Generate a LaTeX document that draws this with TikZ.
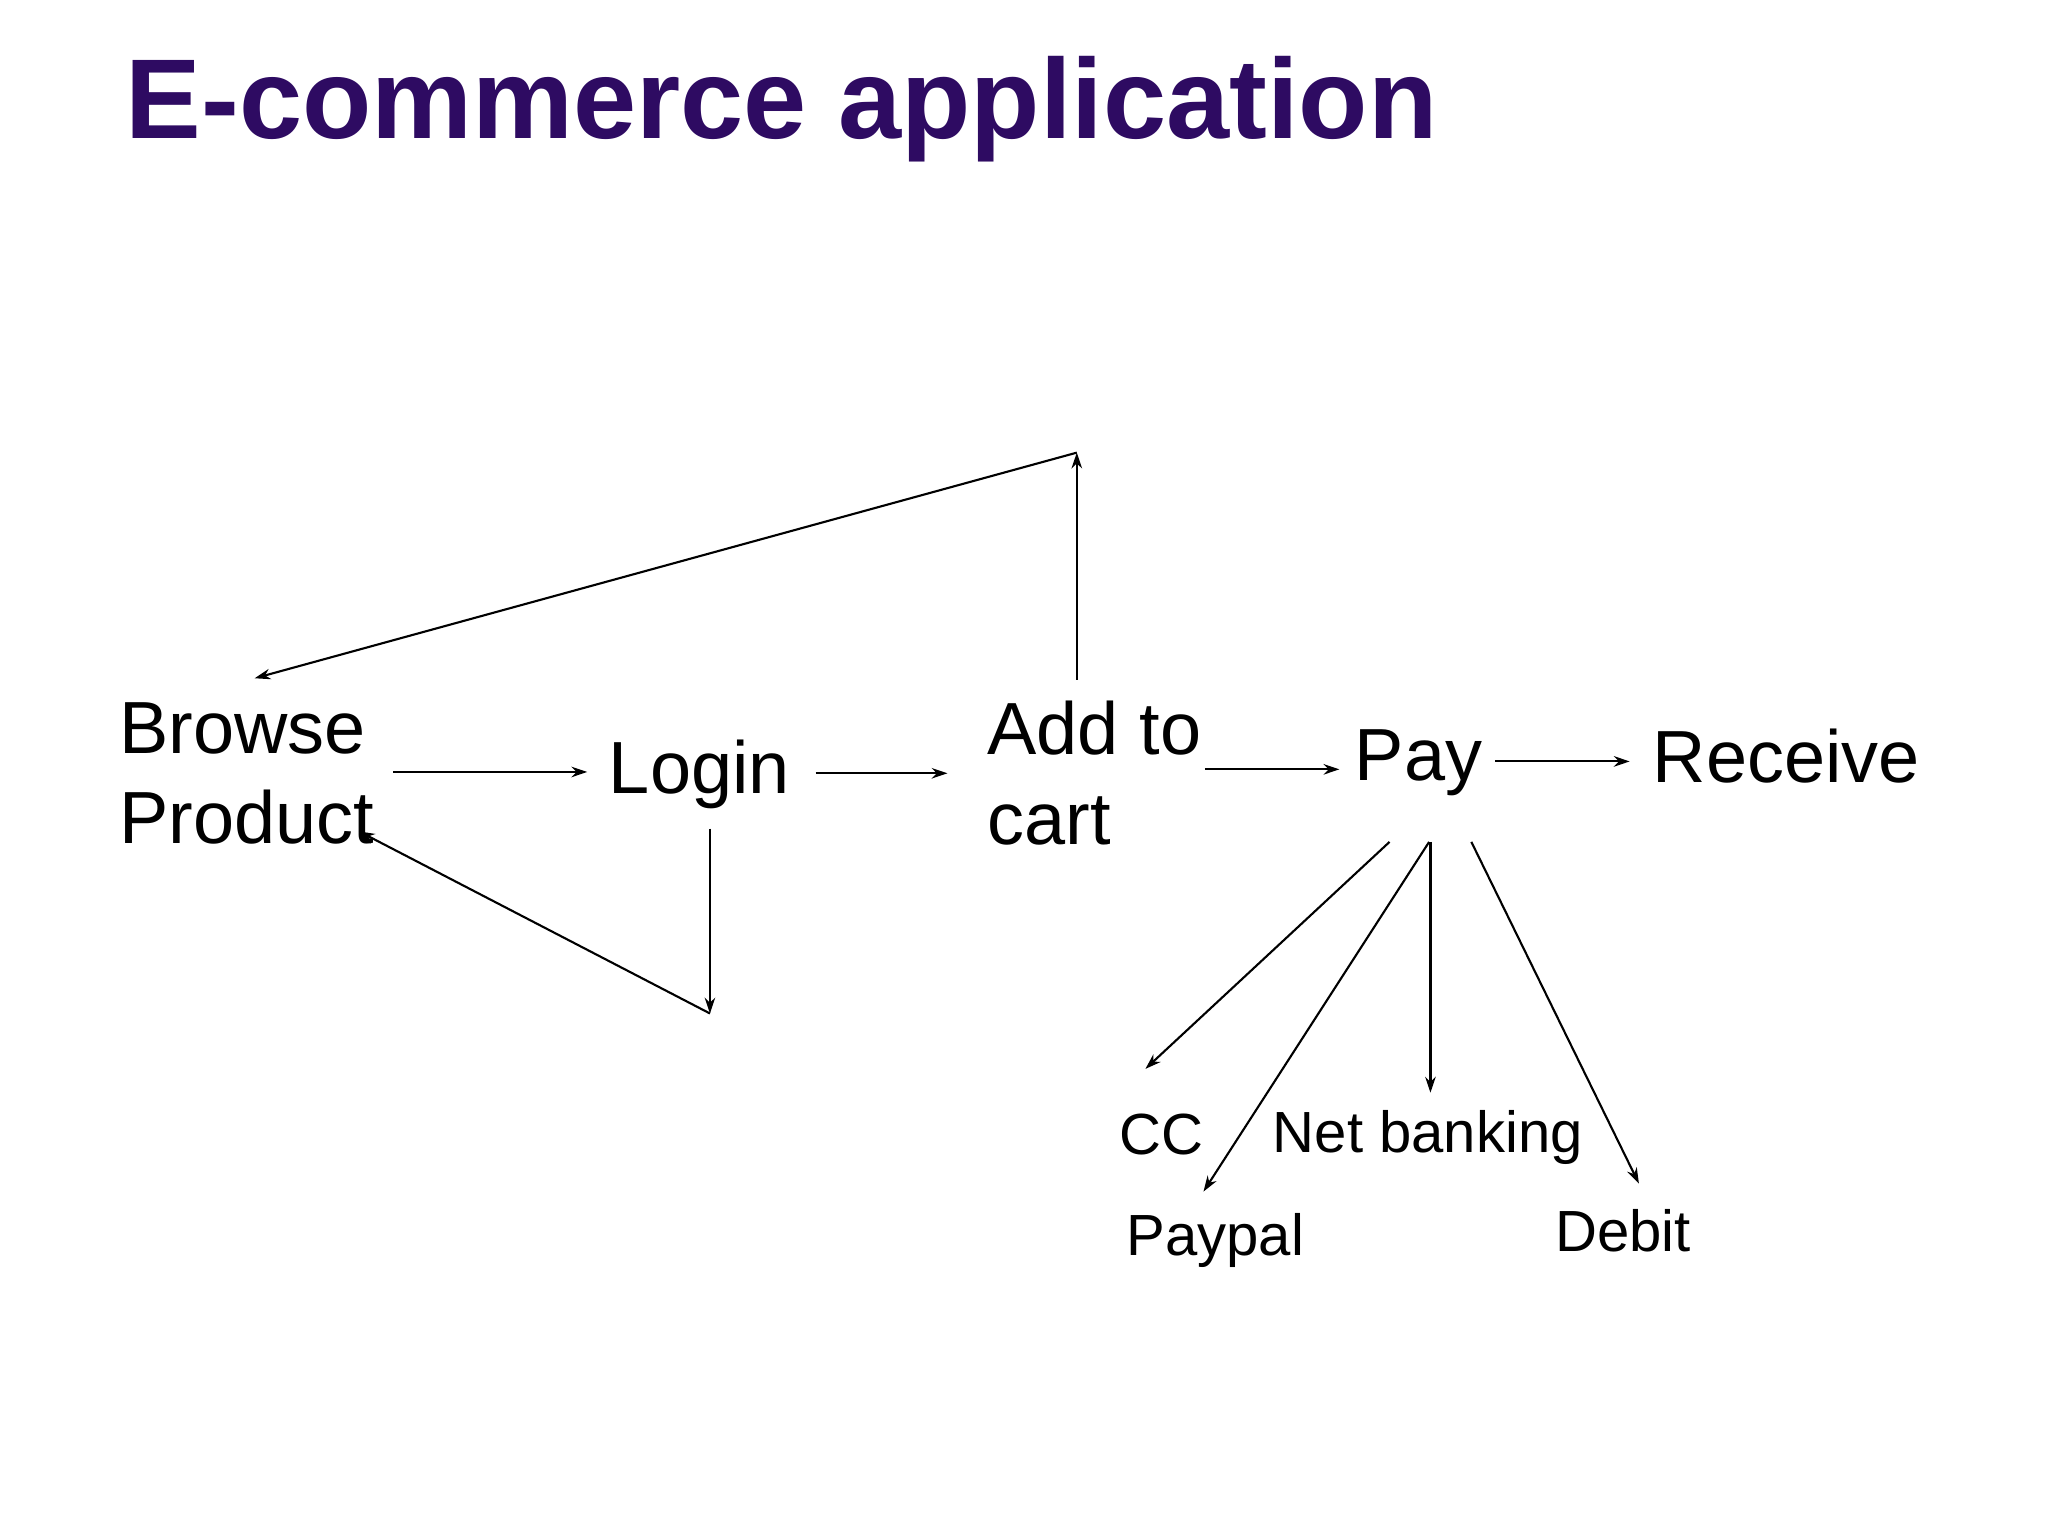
\documentclass[tikz,border=0pt]{standalone}
\usepackage{fontspec}
\setmainfont{Liberation Sans}
\usetikzlibrary{arrows.meta}
\definecolor{ttl}{HTML}{2E0B62}
\begin{document}
\begin{tikzpicture}[x=0.5pt,y=-0.5pt,
  lab/.style={font=\fontsize{28}{34}\selectfont,inner sep=0pt,align=left},
  sm/.style={font=\fontsize{22}{26}\selectfont,inner sep=0pt},
  ar/.style={line width=0.8pt,-{Stealth[length=6pt,width=4pt]}},
  ln/.style={line width=0.8pt}]
\useasboundingbox[fill=white] (0,0) rectangle (1552,1164);
\node[anchor=base west,inner sep=0pt,text=ttl,font=\fontsize{43}{50}\selectfont\bfseries] (title) at (95,105) {E-commerce application};
\node[lab,anchor=west] (browse) at (90,586) {Browse\\Product};
\node[lab] (login) at (530,587) {Login};
\node[lab,anchor=west] (cart) at (748,586) {Add to\\cart};
\node[lab] (pay) at (1075,578) {Pay};
\node[lab,anchor=west] (recv) at (1252,573) {Receive};
\node[sm] (cc) at (880,860) {CC};
\node[sm] (net) at (1082,862) {Net banking};
\node[sm] (paypal) at (921,940) {Paypal};
\node[sm] (debit) at (1230,933) {Debit};
\coordinate (top) at (816,343);
\coordinate (bot) at (538,768);
\draw[ar] (298,585) -- (445,585);
\draw[ar] (618,586) -- (718,586);
\draw[ar] (913,583) -- (1015,583);
\draw[ar] (1133,577) -- (1235,577);
\draw[ar] (816,515) -- (top);
\draw[ar] (top) -- (193,514);
\draw[ar] (538,628) -- (bot);
\draw[ar] (bot) -- (272,630);
\draw[ar] (1053,638) -- (868,810);
\draw[ar] (1083,638) -- (912,903);
\draw[ar] (1084,638) -- (1084,828);
\draw[ar] (1115,638) -- (1242,897);
\end{tikzpicture}
\end{document}
